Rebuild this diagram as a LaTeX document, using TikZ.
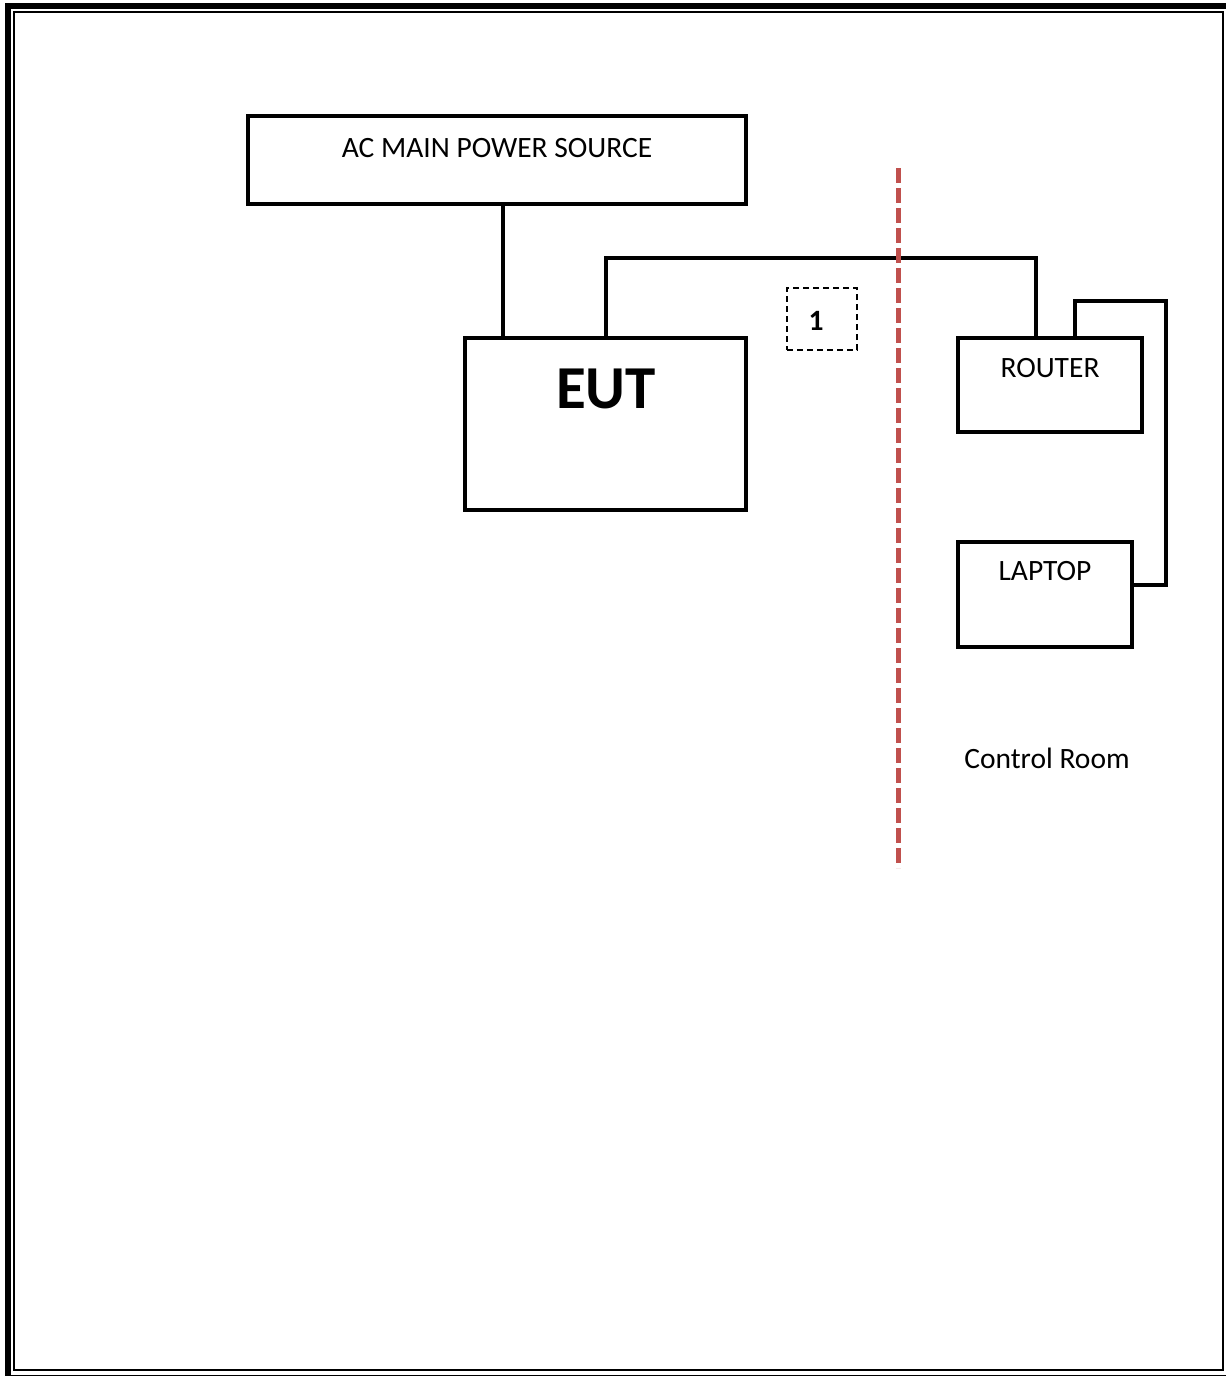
\documentclass[tikz,border=0pt]{standalone}
\usepackage{fontspec}
\setmainfont{Carlito}
\begin{document}
\begin{tikzpicture}[x=1pt,y=-1pt,
  box/.style={draw=black,line width=4.5pt,minimum width=#1,outer sep=0pt,inner sep=0pt,rectangle},
  wire/.style={draw=black,line width=4.5pt,line join=miter},
  lbl/.style={font=\fontsize{29.5}{35}\selectfont,anchor=base,inner sep=0pt},
  divider/.style={draw={rgb,255:red,192;green,80;blue,77},line width=5pt,dash pattern=on 15pt off 5pt},
  markbox/.style={draw=black,line width=1.5pt,dash pattern=on 6pt off 4pt,minimum width=70pt,minimum height=62pt,inner sep=0pt}
]
\useasboundingbox (0,0) rectangle (1226,1376);
% page border
\draw[line width=6pt] (8,6) rectangle (1229,1378);
\draw[line width=2pt] (14,12) rectangle (1223,1370);

% boxes
\node[box=498pt,minimum height=88pt] (ac) at (497,160) {};
\node[box=281pt,minimum height=172pt] (eut) at (605.5,424) {};
\node[box=184pt,minimum height=94pt] (router) at (1050,385) {};
\node[box=174pt,minimum height=105pt] (laptop) at (1045,594.5) {};
\node[markbox] (mark) at (822,319) {};

% labels
\node[lbl] (acl) at (497,157) {AC MAIN POWER SOURCE};
\node[lbl,font=\fontsize{61}{70}\selectfont\bfseries] (eutl) at (606,408) {EUT};
\node[lbl] (routerl) at (1050,377) {ROUTER};
\node[lbl] (laptopl) at (1045,580) {LAPTOP};
\node[lbl] (ctrl) at (1047,768) {Control Room};
\node[lbl,font=\fontsize{29.5}{35}\selectfont\bfseries] (markl) at (816,330) {1};

% connectors
\coordinate (p1) at (503,250);
\draw[wire] (ac.south -| p1) -- (eut.north -| p1);

\coordinate (a) at (606,258);
\coordinate (b) at (1036,258);
\draw[wire] (eut.north -| a) -- (a) -- (b) -- (router.north -| b);

\coordinate (r1) at (1075,301);
\coordinate (r2) at (1166,301);
\coordinate (r3) at (1166,585);
\draw[wire] (router.north -| r1) -- (r1) -- (r2) -- (r3) -- (laptop.east |- r3);

% dividing line
\coordinate (d1) at (898,168);
\coordinate (d2) at (898,868);
\draw[divider] (d1) -- (d2);
\end{tikzpicture}
\end{document}
